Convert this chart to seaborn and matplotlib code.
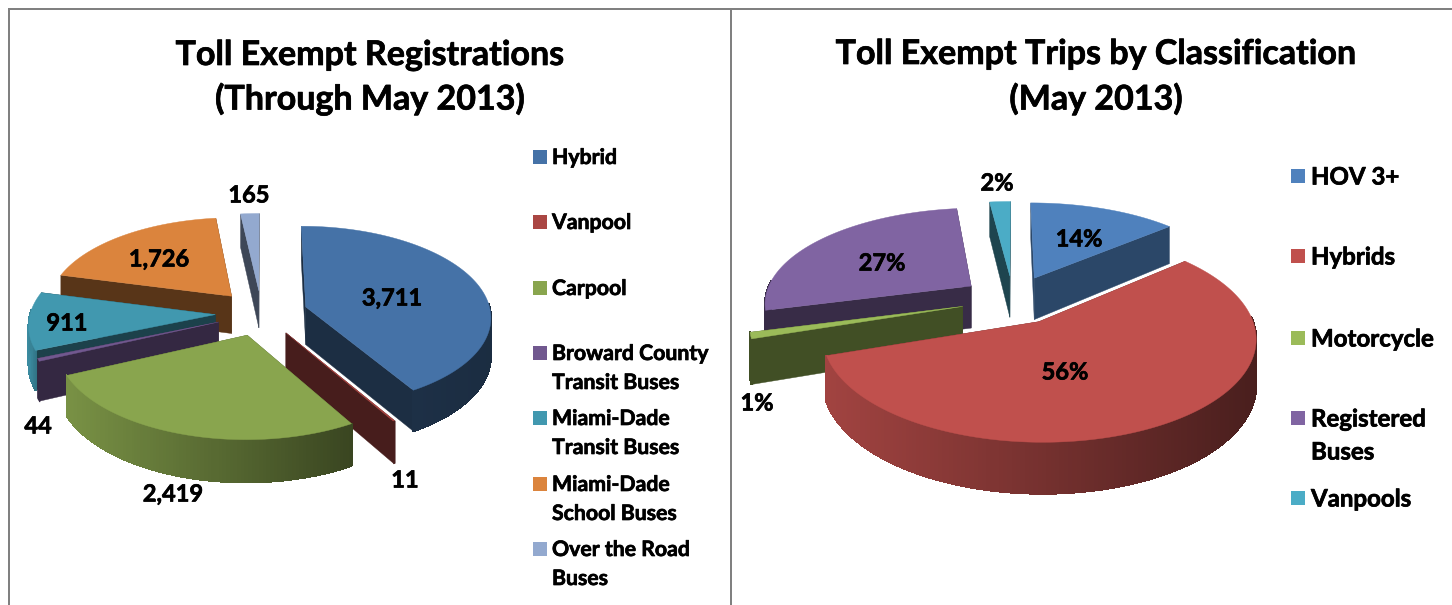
import numpy as np
import seaborn as sns
import matplotlib
matplotlib.use('Agg')
import matplotlib.pyplot as plt
import matplotlib.patheffects as pe
from matplotlib.collections import PolyCollection

# left chart
reg_labels = ['Hybrid', 'Vanpool', 'Carpool', 'Broward County\nTransit Buses',
              'Miami-Dade\nTransit Buses', 'Miami-Dade\nSchool Buses', 'Over the Road\nBuses']
reg_values = [3711, 11, 2419, 44, 911, 1726, 165]
reg_text = ['3,711', '11', '2,419', '44', '911', '1,726', '165']
reg_colors = ['#4572a7', '#aa4643', '#89a54e', '#71588f', '#4198af', '#db843d', '#93a9cf']

# right chart
trip_labels = ['HOV 3+', 'Hybrids', 'Motorcycle', 'Registered\nBuses', 'Vanpools']
trip_values = [14, 56, 1, 27, 2]
trip_text = ['14%', '56%', '1%', '27%', '2%']
trip_colors = ['#4f81bd', '#c0504d', '#9bbb59', '#8064a2', '#4bacc6']

# Lato bold is lighter than the original face, a thin stroke makes up for it
heavy = dict(fontweight='bold', color='black',
             path_effects=[pe.withStroke(linewidth=0.5, foreground='black')])


def shade(color, f):
    return tuple(c * f for c in matplotlib.colors.to_rgb(color))


def project(pie, u, v, down=0.0):
    s = 1 + pie['persp'] * v
    return pie['cx'] + pie['rx'] * u * s, pie['cy'] + pie['ry'] * v * s + down * s


def draw_pie(ax, pie, values, colors, order):
    total = sum(values)
    edges = np.concatenate([[0], np.cumsum(values)]) / total * 2 * np.pi
    for z, i in enumerate(order):
        a0, a1 = edges[i], edges[i + 1]
        mid = (a0 + a1) / 2
        ou = pie['explode'] * np.sin(mid)
        ov = -pie['explode'] * np.cos(mid)
        th = np.linspace(a0, a1, max(int(np.degrees(a1 - a0)), 2))
        us = ou + np.sin(th)
        vs = ov - np.cos(th)
        d = pie['depth']
        side = shade(colors[i], pie['radial'][i])

        # the two cut faces
        for t in (a0, a1):
            u, v = ou + np.sin(t), ov - np.cos(t)
            x0, y0 = project(pie, ou, ov)
            x1, y1 = project(pie, u, v)
            x2, y2 = project(pie, u, v, d)
            x3, y3 = project(pie, ou, ov, d)
            ax.fill([x0, x1, x2, x3], [y0, y1, y2, y3], color=side, lw=0.3, zorder=z + 1)

        # outer wall, lighter on the left
        keep = -np.cos(th) > -0.05
        if keep.sum() > 1:
            xt, yt = project(pie, us[keep], vs[keep])
            xb, yb = project(pie, us[keep], vs[keep], d)
            span = max(xt.max() - xt.min(), 1)
            fl, fr = pie['wall'][i]
            polys, cols = [], []
            for k in range(len(xt) - 1):
                polys.append([(xt[k], yt[k]), (xt[k + 1], yt[k + 1]), (xb[k + 1], yb[k + 1]), (xb[k], yb[k])])
                t = ((xt[k] + xt[k + 1]) / 2 - xt.min()) / span
                cols.append(shade(colors[i], fl + (fr - fl) * t))
            ax.add_collection(PolyCollection(polys, facecolors=cols, edgecolors=cols, linewidths=0.8,
                                             antialiaseds=False, zorder=z + 1.1))

        # top face
        xs, ys = project(pie, np.r_[ou, us], np.r_[ov, vs])
        ax.fill(xs, ys, color=colors[i], lw=0.3, zorder=z + 1.2)


def draw_legend(ax, labels, colors, ys, x_box, x_text, size, gap):
    sns.scatterplot(x=[x_box] * len(ys), y=ys, hue=labels, palette=colors, hue_order=labels,
                    marker='s', s=100, linewidth=0, legend=False, ax=ax, zorder=30)
    for lab, y in zip(labels, ys):
        for n, line in enumerate(lab.split('\n')):
            ax.text(x_text, y + n * gap + 1, line, fontsize=size, va='center', ha='left', zorder=30, **heavy)


def main():
    sns.set_theme(style='white')
    plt.rcParams['font.family'] = ['Lato', 'DejaVu Sans']

    fig = plt.figure(figsize=(14.52, 6.05), dpi=100)
    ax = fig.add_axes([0, 0, 1, 1])
    ax.set_xlim(0, 1452)
    ax.set_ylim(605, 0)
    ax.axis('off')

    # frame lines
    ax.plot([9, 9], [8, 605], color='#808080', lw=1.44, solid_capstyle='butt')
    ax.plot([731, 731], [8, 605], color='#808080', lw=1.44, solid_capstyle='butt')
    ax.plot([8, 1452], [9, 9], color='#808080', lw=1.44, solid_capstyle='butt')

    left = dict(cx=261.5, cy=313, rx=185, ry=91, persp=0.10, depth=38, explode=0.25,
                radial=[0.40, 0.42, 0.55, 0.46, 0.43, 0.40, 0.42],
                wall=[(0.42, 0.39), (0.42, 0.42), (0.88, 0.42), (0.46, 0.46), (0.92, 0.75), (0.4, 0.4), (0.42, 0.42)])
    draw_pie(ax, left, reg_values, reg_colors, [6, 5, 4, 3, 0, 1, 2])

    right = dict(cx=1013, cy=299.5, rx=207, ry=98, persp=0.16, depth=43, explode=0.25,
                 radial=[0.55, 0.5, 0.42, 0.44, 0.40],
                 wall=[(0.55, 0.55), (0.84, 0.38), (0.42, 0.42), (0.44, 0.44), (0.4, 0.4)])
    draw_pie(ax, right, trip_values, trip_colors, [4, 3, 0, 2, 1])

    # titles
    ax.text(370, 55, 'Toll Exempt Registrations', fontsize=24.5, ha='center', va='center', zorder=30, **heavy)
    ax.text(370, 99, '(Through May 2013)', fontsize=24.5, ha='center', va='center', zorder=30, **heavy)
    ax.text(1096, 54, 'Toll Exempt Trips by Classification', fontsize=24.5, ha='center', va='center', zorder=30, **heavy)
    ax.text(1096, 99, '(May 2013)', fontsize=24.5, ha='center', va='center', zorder=30, **heavy)

    # data labels
    reg_pos = [(392, 298), (405, 480), (173, 494), (38, 426), (67, 323), (159, 259), (249, 195)]
    for txt, (x, y) in zip(reg_text, reg_pos):
        ax.text(x, y, txt, fontsize=17, ha='center', va='center', zorder=30, **heavy)
    trip_pos = [(1079, 239), (1065, 372), (757, 403), (882, 263), (997, 183)]
    for txt, (x, y) in zip(trip_text, trip_pos):
        ax.text(x, y, txt, fontsize=17, ha='center', va='center', zorder=30, **heavy)

    draw_legend(ax, reg_labels, reg_colors, [157, 222, 288, 353, 418, 484, 549], 540, 552, 15.3, 29)
    draw_legend(ax, trip_labels, trip_colors, [176, 256, 338, 418, 498], 1298, 1311, 17.3, 33)

    ax.set_xlim(0, 1452)
    ax.set_ylim(605, 0)
    fig.savefig('out.png', dpi=100)


if __name__ == "__main__":
    main()
